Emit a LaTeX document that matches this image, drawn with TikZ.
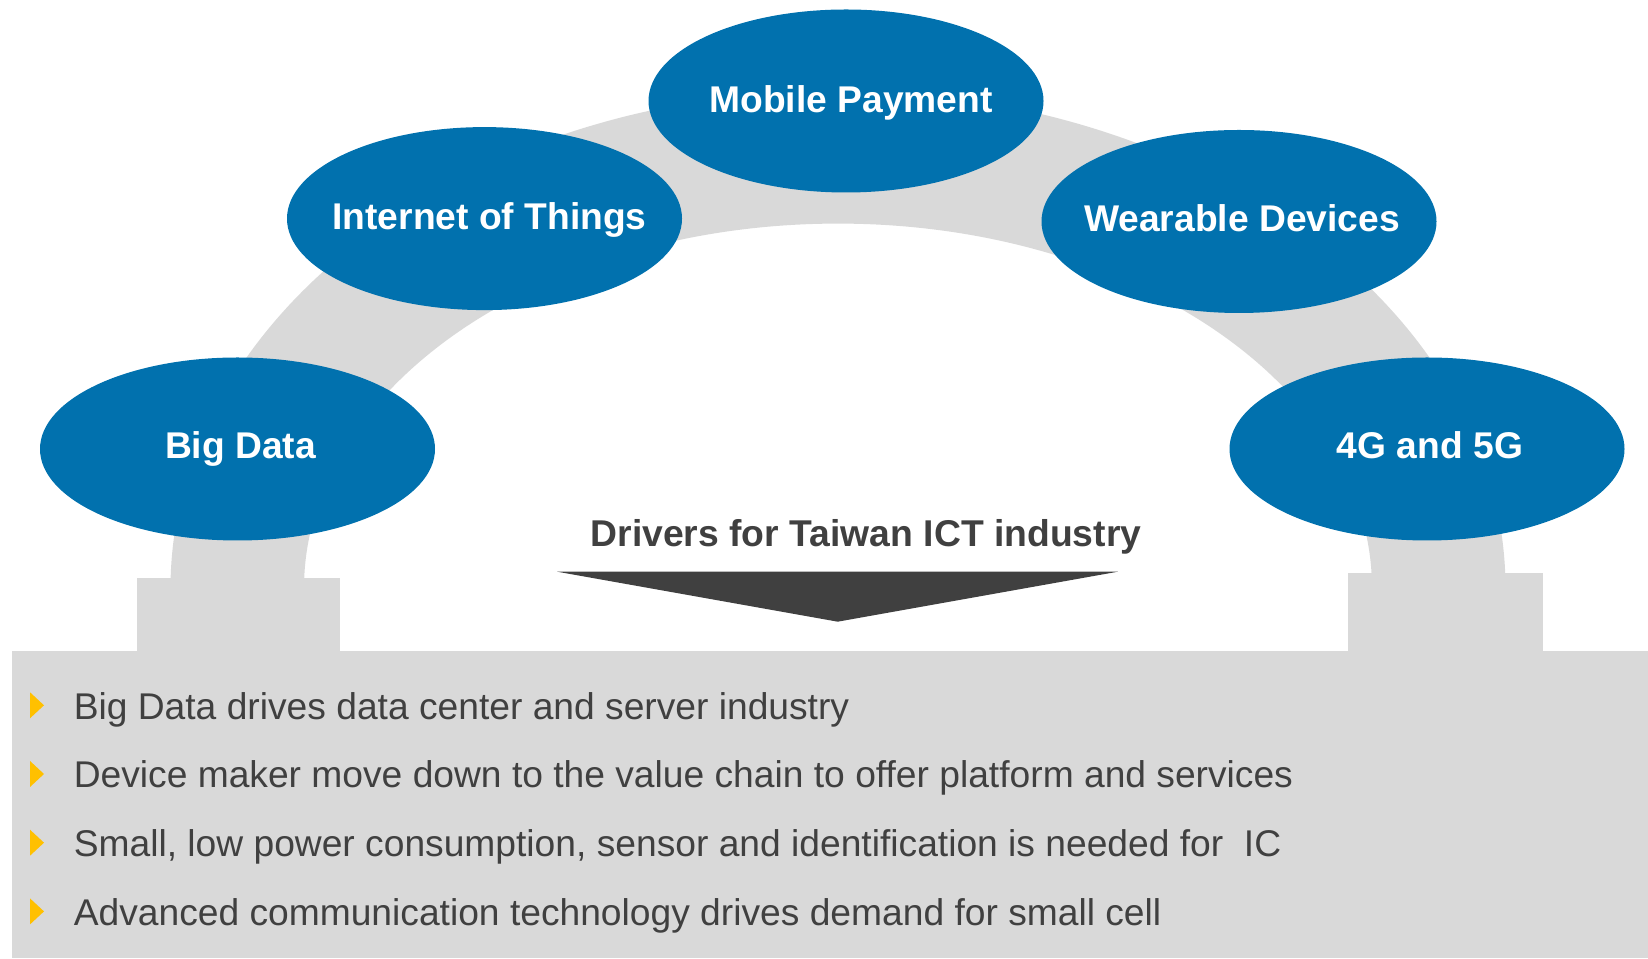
\documentclass[tikz,border=0pt]{standalone}
\usepackage{fontspec}
\setmainfont{Liberation Sans}
\usetikzlibrary{shapes.geometric}
\definecolor{driverblue}{HTML}{0171AE}
\definecolor{bandgray}{HTML}{D9D9D9}
\definecolor{inkgray}{HTML}{404040}
\definecolor{bulletgold}{HTML}{FFC000}
\tikzset{
  driver/.style={shape=ellipse, fill=driverblue, draw=none, inner sep=0pt,
    minimum width=395pt, minimum height=183pt},
  drivertext/.style={anchor=base, inner sep=0pt, text=white,
    font=\fontsize{37.2}{44}\selectfont\bfseries},
  pointtext/.style={anchor=base west, inner sep=0pt, text=inkgray,
    font=\fontsize{37.2}{44}\selectfont},
  pointmark/.style={fill=bulletgold, draw=none},
}
\begin{document}
\begin{tikzpicture}[x=1pt, y=1pt]
\useasboundingbox (0,0) rectangle (1648,958);

% grey arch carrying the drivers
\fill[bandgray] (170.5,369.4) arc[start angle=180, end angle=0, x radius=667.5, y radius=498]
  -- (1372,369.4) arc[start angle=0, end angle=180, x radius=534, y radius=365] -- cycle;
% pedestals and base panel
\fill[bandgray] (137,300) rectangle (340,380);
\fill[bandgray] (1348,300) rectangle (1543,385);
\fill[bandgray] (12,0) rectangle (1648,307);

% heading and downward arrow
\node[anchor=base, inner sep=0pt, text=inkgray, font=\fontsize{37.3}{44}\selectfont\bfseries]
  (heading) at (866,411) {Drivers for Taiwan ICT industry};
\fill[inkgray] (557.2,386.3) -- (1117.9,386.3) -- (837.7,336.3) -- cycle;

% driver ellipses
\node[driver] (bigdata) at (237.5,509) {};
\node[driver] (iot) at (484.5,739.4) {};
\node[driver] (mobile) at (846,857) {};
\node[driver] (wearable) at (1239,736.5) {};
\node[driver] (net) at (1427,509) {};

\node[drivertext] (bigdatat) at ([xshift=3pt,yshift=-10pt]bigdata.center) {Big Data};
\node[drivertext] (iott) at ([xshift=5pt,yshift=-11pt]iot.center) {Internet of Things};
\node[drivertext] (mobilet) at ([xshift=5pt,yshift=-11.5pt]mobile.center) {Mobile Payment};
\node[drivertext] (wearablet) at ([xshift=3pt,yshift=-10pt]wearable.center) {Wearable Devices};
\node[drivertext] (nett) at ([xshift=3pt,yshift=-10pt]net.center) {4G and 5G};

% bullet points
\foreach \yb/\txt [count=\i] in {
  238.7/{Big Data drives data center and server industry},
  170/{Device maker move down to the value chain to offer platform and services},
  101.3/{Small, low power consumption, sensor and identification is needed for~~IC},
  32.6/{Advanced communication technology drives demand for small cell}}{
  \fill[pointmark] (30,\yb+1) -- (44,\yb+14) -- (30,\yb+27) -- cycle;
  \node[pointtext] (point\i) at (73.6,\yb) {\txt};
}
\end{tikzpicture}
\end{document}
